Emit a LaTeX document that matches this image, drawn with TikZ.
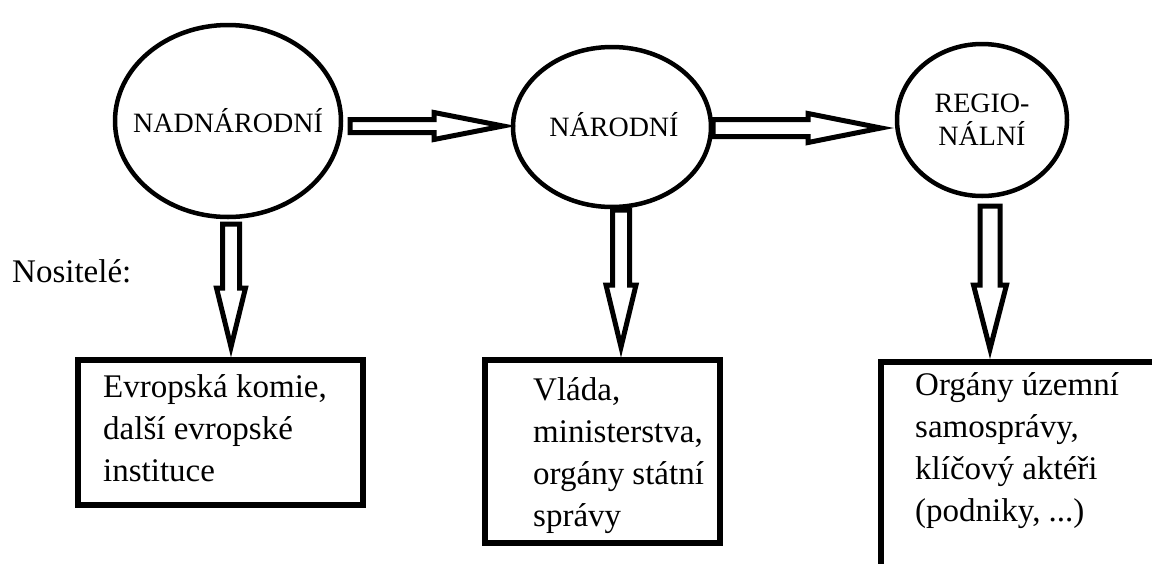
\documentclass[tikz,border=0pt]{standalone}
\usepackage{fontspec}
\setmainfont{Liberation Serif}
\usetikzlibrary{shapes.geometric,calc}
\newcommand\hblockarrow[5]{%
  \draw[blockarrow] let \p1=(#1), \p2=(#2) in
    (\x1,\y1+#4) -- (\x2-#3,\y1+#4) -- (\x2-#3,\y1+#5) -- (\x2,\y1)
    -- (\x2-#3,\y1-#5) -- (\x2-#3,\y1-#4) -- (\x1,\y1-#4) -- cycle;}
\newcommand\vblockarrow[5]{%
  \draw[blockarrow] let \p1=(#1), \p2=(#2) in
    (\x1-#4,\y1) -- (\x1-#4,\y2+#3) -- (\x1-#5,\y2+#3) -- (\x1,\y2)
    -- (\x1+#5,\y2+#3) -- (\x1+#4,\y2+#3) -- (\x1+#4,\y1) -- cycle;}
\begin{document}
\begin{tikzpicture}[x=1pt,y=-1pt,
  level/.style={ellipse,draw,line width=4.5pt,inner sep=0pt},
  leveltext/.style={inner sep=0pt,align=center,font=\fontsize{28}{33}\selectfont},
  frame/.style={draw,line width=6pt,anchor=north west,inner sep=0pt},
  boxtext/.style={anchor=north west,inner sep=0pt,align=left,
    font=\fontsize{33}{42}\selectfont},
  blockarrow/.style={draw,fill=white,line width=5pt,line join=miter}]
\useasboundingbox (0,0) rectangle (1152,563);
% levels
\node[level,minimum width=226,minimum height=192] (c1) at (228,121) {};
\node[level,minimum width=198,minimum height=160] (c2) at (612,127) {};
\node[level,minimum width=170,minimum height=152] (c3) at (982,120) {};
\node[leveltext] (l1) at (c1) {NADNÁRODNÍ};
\node[leveltext] (l2) at (614,125) {NÁRODNÍ};
\node[leveltext] (l3) at (c3) {REGIO-\\NÁLNÍ};
% horizontal arrows
\coordinate (a1s) at (350,126);
\coordinate (a1t) at (503,126);
\coordinate (a2s) at (713,128);
\coordinate (a2t) at (881,128);
\hblockarrow{a1s}{a1t}{69pt}{6.5pt}{13.5pt}
\hblockarrow{a2s}{a2t}{73pt}{8.5pt}{14.5pt}
% boxes
\node[frame,minimum width=285,minimum height=145] (b1) at (75,357) {};
\node[frame,minimum width=235,minimum height=183] (b2) at (482,357) {};
\node[frame,minimum width=300,minimum height=230] (b3) at (878,359) {};
\node[boxtext] (t1) at (103,374) {Evropská komie,\\další evropské\\instituce};
\node[boxtext] (t2) at (533,377) {Vláda,\\ministerstva,\\orgány státní\\správy};
\node[boxtext] (t3) at (915,372) {Orgány územní\\samosprávy,\\klíčový aktéři\\(podniky, ...)};
\node[anchor=base west,inner sep=0pt,font=\fontsize{33}{42}\selectfont] (nos) at (12,282) {Nositelé:};
% vertical arrows
\coordinate (v1s) at (231,224);
\coordinate (v1t) at (231,347);
\coordinate (v2s) at (621,210);
\coordinate (v2t) at (621,347);
\coordinate (v3s) at (990,206);
\coordinate (v3t) at (990,349);
\vblockarrow{v1s}{v1t}{59pt}{8.5pt}{14.5pt}
\vblockarrow{v2s}{v2t}{62pt}{8.5pt}{15pt}
\vblockarrow{v3s}{v3t}{64pt}{10pt}{16.5pt}
\end{tikzpicture}
\end{document}
